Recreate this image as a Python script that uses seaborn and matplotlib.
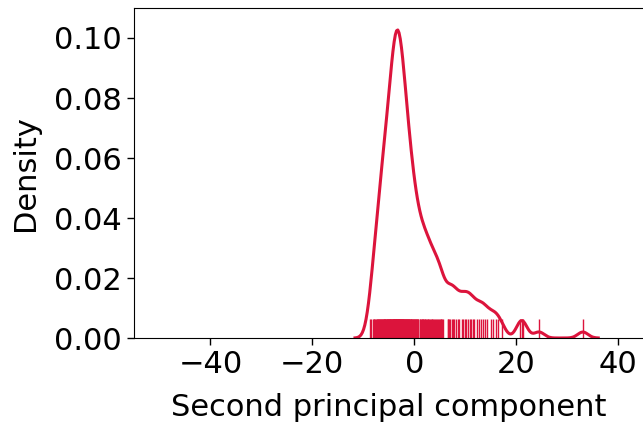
import matplotlib
matplotlib.use("Agg")
import matplotlib.pyplot as plt
import seaborn as sns
import pandas as pd

# Second principal component scores (read from rug positions)
pc2_scores = [
    -8.6, -8.4, -8.1,
    -7.95, -7.8, -7.65, -7.5, -7.4, -7.25, -7.15, -7.05,
    -6.97, -6.88, -6.71, -6.64, -6.52, -6.43, -6.36, -6.27, -6.18, -6.09, -6.03,
    -5.96, -5.89, -5.81, -5.74, -5.68, -5.59, -5.52, -5.44, -5.37, -5.31, -5.22, -5.16, -5.08, -5.02,
    -4.97, -4.92, -4.85, -4.79, -4.73, -4.66, -4.61, -4.55, -4.48, -4.42, -4.37, -4.31, -4.24, -4.19,
    -4.13, -4.08, -4.04, -4.01,
    -3.98, -3.93, -3.88, -3.84, -3.79, -3.73, -3.69, -3.64, -3.61, -3.58, -3.53, -3.49, -3.44, -3.39,
    -3.36, -3.33, -3.28, -3.24, -3.19, -3.14, -3.09, -3.06, -3.03, -3.01,
    -2.97, -2.93, -2.88, -2.82, -2.77, -2.73, -2.67, -2.62, -2.57, -2.51, -2.46, -2.41, -2.36, -2.31,
    -2.26, -2.2, -2.15, -2.11, -2.06, -2.02,
    -1.96, -1.9, -1.83, -1.77, -1.7, -1.63, -1.57, -1.5, -1.43, -1.36, -1.29, -1.22, -1.16, -1.09, -1.03,
    -0.95, -0.87, -0.8, -0.71, -0.63, -0.55, -0.46, -0.38, -0.29, -0.21, -0.12,
    0.05, 0.14, 0.23, 0.33, 0.41, 0.52, 0.61, 0.7, 0.81,
    1.06, 1.18, 1.31, 1.43, 1.55, 1.67, 1.78, 1.9,
    2.07, 2.21, 2.36, 2.5, 2.63, 2.78, 2.92,
    3.08, 3.24, 3.41, 3.57, 3.72, 3.9,
    4.08, 4.29, 4.52, 4.71, 4.93,
    5.05, 5.2, 5.33, 5.47, 5.62,
    6.55, 6.7, 6.88,
    7.1, 7.35, 7.6, 7.85,
    8.2, 8.55, 8.87,
    9.3, 9.6, 9.9,
    10.2, 10.5, 10.85,
    11.1, 11.45, 11.8,
    12.3, 12.75,
    13.2, 13.5, 13.8,
    14.3,
    15.1, 15.4,
    16.1, 16.5, 17.3,
    20.8, 21.1, 21.4,
    24.5,
    33.1,
]

x_ticks = [-40, -20, 0, 20, 40]
y_ticks = [0.00, 0.02, 0.04, 0.06, 0.08, 0.10]

df = pd.DataFrame({"pc2": pc2_scores})

plt.rcParams["font.family"] = ["DejaVu Sans"]
plt.rcParams["font.size"] = 22

fig = plt.figure(figsize=(6.43, 4.25), dpi=100)
ax = fig.add_axes([134 / 643, 87 / 425, 509.5 / 643, 330 / 425])

color = "#DC143C"
sns.kdeplot(data=df, x="pc2", ax=ax, color=color, linewidth=2.2, bw_adjust=0.415)
sns.rugplot(data=df, x="pc2", ax=ax, color=color, height=0.058, linewidth=1.0)

ax.set_xlim(-55, 45)
ax.set_ylim(0, 0.11)
ax.set_xticks(x_ticks)
ax.set_yticks(y_ticks)
ax.set_yticklabels([f"{v:.2f}" for v in y_ticks])
ax.set_xticklabels([f"{v}".replace("-", "\u2212") for v in x_ticks])
ax.tick_params(labelsize=22, length=5, width=1)
ax.set_xlabel("Second principal component", fontsize=22, labelpad=10)
ax.set_ylabel("Density", fontsize=22, labelpad=10)
ax.spines["right"].set_visible(False)

fig.savefig("out.png", dpi=100)
